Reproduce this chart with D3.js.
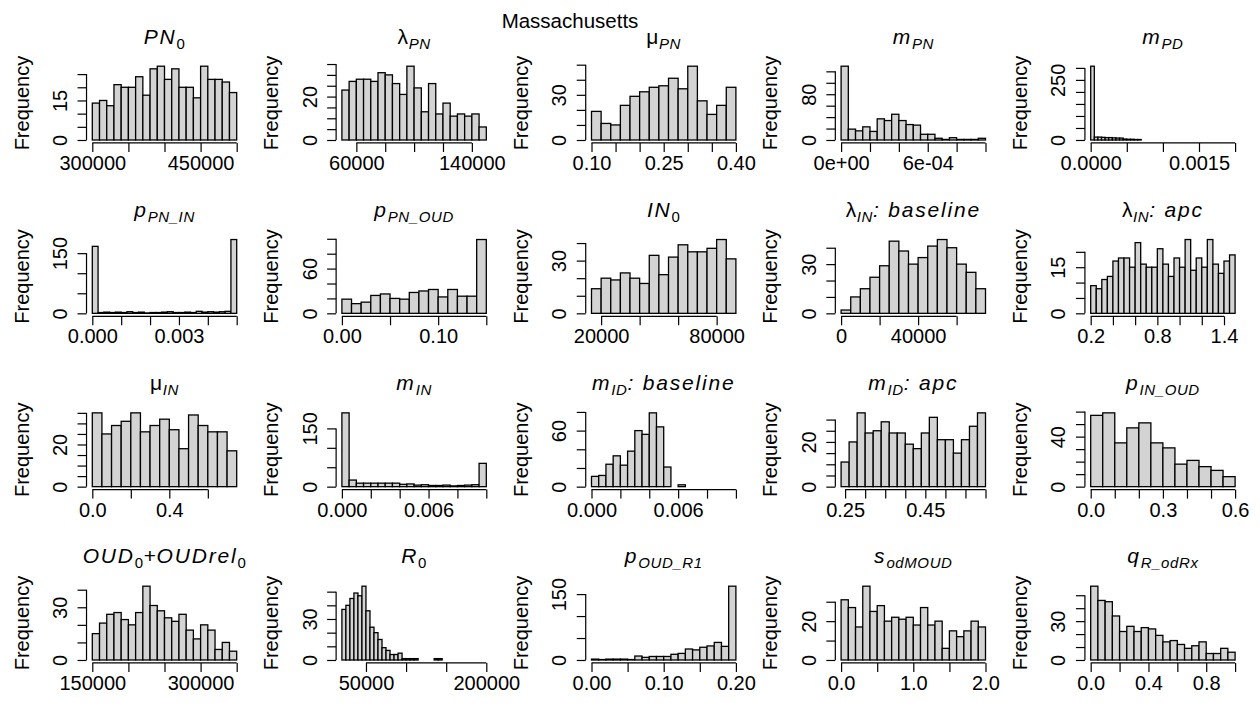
<!DOCTYPE html>
<html>
<head>
<meta charset="utf-8">
<script src="https://cdn.jsdelivr.net/npm/d3@7"></script>
<style>
  body { margin: 0; background: #fff; }
  text { font-family: "Liberation Sans", Arial, sans-serif; fill: #000; }
</style>
</head>
<body>
<div id="chart"></div>
<script>
// histogram counts, one array per parameter
const cPN0 = [14, 15, 13, 21, 20, 20, 24, 17, 27, 28, 23, 27, 20, 20, 16, 28, 23, 23, 22, 18];
const cLamPN = [23, 27, 28, 28, 27, 31, 30, 26, 21, 34, 24, 13, 26, 12, 17, 11, 12, 11, 12, 6];
const cMuPN = [19, 11, 10, 23, 29, 32, 35, 36, 41, 34, 49, 26, 17, 23, 35];
const cMPN = [129, 19, 16, 23, 15, 37, 34, 45, 34, 27, 26, 10, 10, 3, 1, 4, 1, 1, 1, 3];
const cMPD = [307, 12, 12, 11, 10, 10, 9, 8, 8, 4, 3, 3, 2, 2];
const cPPNIN = [167, 2, 3, 2, 3, 2, 4, 2, 3, 1, 2, 2, 3, 4, 2, 2, 3, 2, 5, 3, 4, 3, 4, 5, 184];
const cPPNOUD = [19, 13, 15, 24, 26, 20, 19, 28, 30, 32, 22, 32, 23, 23, 99];
const cIN0 = [14, 20, 19, 23, 20, 17, 33, 22, 32, 39, 35, 35, 37, 42, 31];
const cLamINb = [2, 10, 15, 22, 29, 44, 38, 30, 34, 41, 45, 40, 30, 25, 15];
const cLamINa = [9, 8, 11, 12, 17, 18, 18, 15, 23, 16, 15, 15, 21, 16, 12, 18, 15, 24, 14, 18, 15, 24, 16, 13, 17, 19];
const cMuIN = [35, 25, 29, 31, 35, 26, 29, 32, 27, 18, 34, 29, 26, 26, 17];
const cMIN = [190, 17, 9, 9, 9, 9, 9, 9, 6, 7, 4, 5, 3, 3, 4, 2, 3, 4, 5, 60];
const cMIDb = [11, 12, 24, 33, 23, 38, 60, 56, 79, 64, 21, 0, 2];
const cMIDa = [11, 20, 33, 24, 25, 29, 24, 24, 19, 17, 24, 31, 21, 21, 15, 21, 27, 33];
const cPINOUD = [57, 59, 35, 47, 51, 35, 31, 18, 21, 16, 13, 8];
const cOUD = [15, 21, 26, 27, 23, 20, 27, 42, 31, 28, 24, 22, 26, 17, 12, 20, 17, 6, 10, 5];
const cR0 = [37, 40, 45, 49, 47, 54, 36, 24, 20, 15, 9, 7, 4, 4, 5, 1, 1, 1, 1, 0, 0, 0, 0, 1, 1];
const cPOUDR1 = [2, 1, 2, 2, 2, 1, 9, 6, 8, 8, 8, 13, 15, 25, 23, 29, 32, 40, 31, 168];
const cSod = [31, 27, 17, 38, 25, 28, 20, 22, 21, 22, 18, 27, 18, 20, 6, 15, 12, 15, 20, 17];
const cQ = [57, 46, 45, 34, 22, 26, 22, 25, 24, 19, 14, 15, 12, 9, 11, 14, 5, 5, 9, 6];

const counts = [cPN0, cLamPN, cMuPN, cMPN, cMPD,
  cPPNIN, cPPNOUD, cIN0, cLamINb, cLamINa,
  cMuIN, cMIN, cMIDb, cMIDa, cPINOUD,
  cOUD, cR0, cPOUDR1, cSod, cQ];

// first break and bin width of each histogram
const binStart = [300000, 50000, 0.10, 0, 0,
  0, 0, 15000, 0, 0.2,
  0, 0, 0, 0.24, 0,
  150000, 20000, 0, 0, 0];
const binWidth = [10000, 5000, 0.02, 5e-5, 5e-5,
  2e-4, 0.01, 5000, 5000, 0.05,
  0.05, 5e-4, 5e-4, 0.02, 0.05,
  10000, 5000, 0.01, 0.1, 0.05];
// x range of each panel
const xRange = [[300000, 500000], [50000, 150000], [0.10, 0.40], [0, 0.001], [0, 0.002],
  [0, 0.005], [0, 0.15], [15000, 90000], [0, 75000], [0.2, 1.5],
  [0, 0.75], [0, 0.01], [0, 0.01], [0.24, 0.60], [0, 0.6],
  [150000, 350000], [20000, 200000], [0, 0.2], [0, 2], [0, 1]];

// x tick positions and the labels R managed to print
const xTicks = [
  [300000, 350000, 400000, 450000, 500000],
  [60000, 80000, 100000, 120000, 140000],
  [0.10, 0.15, 0.20, 0.25, 0.30, 0.35, 0.40],
  [0, 2e-4, 4e-4, 6e-4, 8e-4, 1e-3],
  [0, 0.0005, 0.001, 0.0015, 0.002],
  [0, 0.001, 0.002, 0.003, 0.004, 0.005],
  [0, 0.05, 0.10, 0.15],
  [20000, 40000, 60000, 80000],
  [0, 20000, 40000, 60000],
  [0.2, 0.4, 0.6, 0.8, 1.0, 1.2, 1.4],
  [0, 0.2, 0.4, 0.6],
  [0, 0.002, 0.004, 0.006, 0.008, 0.01],
  [0, 0.002, 0.004, 0.006, 0.008, 0.01],
  [0.25, 0.30, 0.35, 0.40, 0.45, 0.50, 0.55, 0.60],
  [0, 0.1, 0.2, 0.3, 0.4, 0.5, 0.6],
  [150000, 200000, 250000, 300000, 350000],
  [50000, 100000, 150000, 200000],
  [0, 0.05, 0.10, 0.15, 0.20],
  [0, 0.5, 1.0, 1.5, 2.0],
  [0, 0.2, 0.4, 0.6, 0.8, 1.0]
];
const xLabels = [
  ["300000", "", "", "450000", ""],
  ["60000", "", "", "", "140000"],
  ["0.10", "", "", "0.25", "", "", "0.40"],
  ["0e+00", "", "", "6e-04", "", ""],
  ["0.0000", "", "", "0.0015", ""],
  ["0.000", "", "", "0.003", "", ""],
  ["0.00", "", "0.10", ""],
  ["20000", "", "", "80000"],
  ["0", "", "40000", ""],
  ["0.2", "", "", "0.8", "", "", "1.4"],
  ["0.0", "", "0.4", ""],
  ["0.000", "", "", "0.006", "", ""],
  ["0.000", "", "", "0.006", "", ""],
  ["0.25", "", "", "", "0.45", "", "", ""],
  ["0.0", "", "", "0.3", "", "", "0.6"],
  ["150000", "", "", "300000", ""],
  ["50000", "", "", "200000"],
  ["0.00", "", "0.10", "", "0.20"],
  ["0.0", "", "1.0", "", "2.0"],
  ["0.0", "", "0.4", "", "0.8", ""]
];

// y tick step and the tick values that carry a label
const yStep = [5, 5, 10, 20, 50, 50, 20, 10, 10, 5, 5, 50, 20, 5, 10, 10, 10, 50, 10, 10];
const yShown = [[0, 15], [0, 20], [0, 30], [0, 80], [0, 250],
  [0, 150], [0, 60], [0, 30], [0, 30], [0, 15],
  [0, 20], [0, 150], [0, 60], [0, 20], [0, 40],
  [0, 30], [0, 30], [0, 150], [0, 20], [0, 30]];

// panel titles: [text, kind]  i italic, u upright, si / su subscript
const titles = [
  [["PN", "i"], ["0", "su"]],
  [["λ", "u"], ["PN", "si"]],
  [["μ", "u"], ["PN", "si"]],
  [["m", "i"], ["PN", "si"]],
  [["m", "i"], ["PD", "si"]],
  [["p", "i"], ["PN_IN", "si"]],
  [["p", "i"], ["PN_OUD", "si"]],
  [["IN", "i"], ["0", "su"]],
  [["λ", "u"], ["IN", "si"], [": baseline", "i"]],
  [["λ", "u"], ["IN", "si"], [": apc", "i"]],
  [["μ", "u"], ["IN", "si"]],
  [["m", "i"], ["IN", "si"]],
  [["m", "i"], ["ID", "si"], [": baseline", "i"]],
  [["m", "i"], ["ID", "si"], [": apc", "i"]],
  [["p", "i"], ["IN_OUD", "si"]],
  [["OUD", "i"], ["0", "su"], ["+", "u"], ["OUDrel", "i"], ["0", "su"]],
  [["R", "i"], ["0", "su"]],
  [["p", "i"], ["OUD_R1", "si"]],
  [["s", "i"], ["odMOUD", "si"]],
  [["q", "i"], ["R_odRx", "si"]]
];

const width = 1260, height = 703;
const colStep = 249.6, rowStep = 173.33;
const left0 = 92.3, dataW = 144.4, base0 = 140, dataH = 73.8;
const fs = 20;

const svg = d3.select("#chart")
  .append("svg")
  .attr("width", width)
  .attr("height", height);

svg.append("text")
  .attr("x", 570)
  .attr("y", 28)
  .attr("text-anchor", "middle")
  .attr("font-size", 20.5)
  .text("Massachusetts");

counts.forEach((cnt, k) => {
  const row = Math.floor(k / 5), col = k % 5;
  const L = left0 + col * colStep;
  const B = base0 + row * rowStep;

  const x = d3.scaleLinear()
    .domain(xRange[k])
    .range([L, L + dataW]);

  const ymax = d3.max(cnt);
  const y = d3.scaleLinear()
    .domain([0, ymax])
    .range([B, B - dataH]);

  const axisX = L - 0.04 * dataW;
  const axisY = B + 0.04 * dataH;

  const g = svg.append("g");

  // bars
  g.selectAll("rect")
    .data(cnt)
    .enter()
    .append("rect")
    .attr("x", (d, i) => x(binStart[k] + i * binWidth[k]))
    .attr("width", (d, i) => x(binStart[k] + (i + 1) * binWidth[k]) - x(binStart[k] + i * binWidth[k]))
    .attr("y", d => y(d))
    .attr("height", d => y(0) - y(d))
    .attr("fill", "#d3d3d3")
    .attr("stroke", "#000")
    .attr("stroke-width", 1.3);

  // x axis
  const xt = xTicks[k];
  const gx = g.append("g")
    .attr("transform", `translate(0,${axisY})`)
    .call(d3.axisBottom(x)
      .tickValues(xt)
      .tickFormat((d, i) => xLabels[k][i])
      .tickSize(9)
      .tickSizeOuter(0));
  gx.select(".domain").remove();
  gx.append("line")
    .attr("x1", x(xt[0]))
    .attr("x2", x(xt[xt.length - 1]))
    .attr("stroke", "#000")
    .attr("stroke-width", 1.2);
  gx.selectAll(".tick line").attr("stroke", "#000").attr("stroke-width", 1.2);
  gx.selectAll(".tick text")
    .attr("y", 27)
    .attr("dy", 0)
    .attr("font-size", fs)
    .attr("font-family", null)
    .attr("fill", "#000");

  // y axis
  const yt = d3.range(0, ymax * 1.04 + 1e-9, yStep[k]);
  const gy = g.append("g")
    .attr("transform", `translate(${axisX},0)`)
    .call(d3.axisLeft(y)
      .tickValues(yt)
      .tickFormat(d => yShown[k].includes(d) ? String(d) : "")
      .tickSize(9)
      .tickSizeOuter(0));
  gy.select(".domain").remove();
  gy.append("line")
    .attr("y1", y(yt[0]))
    .attr("y2", y(yt[yt.length - 1]))
    .attr("stroke", "#000")
    .attr("stroke-width", 1.2);
  gy.selectAll(".tick line").attr("stroke", "#000").attr("stroke-width", 1.2);
  gy.selectAll(".tick text")
    .attr("x", 0)
    .attr("y", -19.5)
    .attr("dy", 0)
    .attr("transform", "rotate(-90)")
    .attr("text-anchor", "middle")
    .attr("font-size", fs)
    .attr("font-family", null)
    .attr("fill", "#000");

  // y label
  g.append("text")
    .attr("transform", `translate(${axisX - 58},${B - dataH / 2})rotate(-90)`)
    .attr("text-anchor", "middle")
    .attr("font-size", fs)
    .text("Frequency");

  // title
  const tt = g.append("text")
    .attr("x", L + dataW / 2)
    .attr("y", B - 96.5)
    .attr("text-anchor", "middle")
    .attr("font-size", 21);
  let shift = 0;
  titles[k].forEach(([s, kind]) => {
    const sub = kind[0] === "s";
    const off = sub ? 5 : 0;
    tt.append("tspan")
      .attr("dy", off - shift)
      .attr("font-style", kind.endsWith("i") ? "italic" : "normal")
      .attr("font-size", sub ? 15 : 21)
      .attr("letter-spacing", kind === "i" ? 1.8 : 0.6)
      .text(s);
    shift = off;
  });
});
</script>
</body>
</html>
